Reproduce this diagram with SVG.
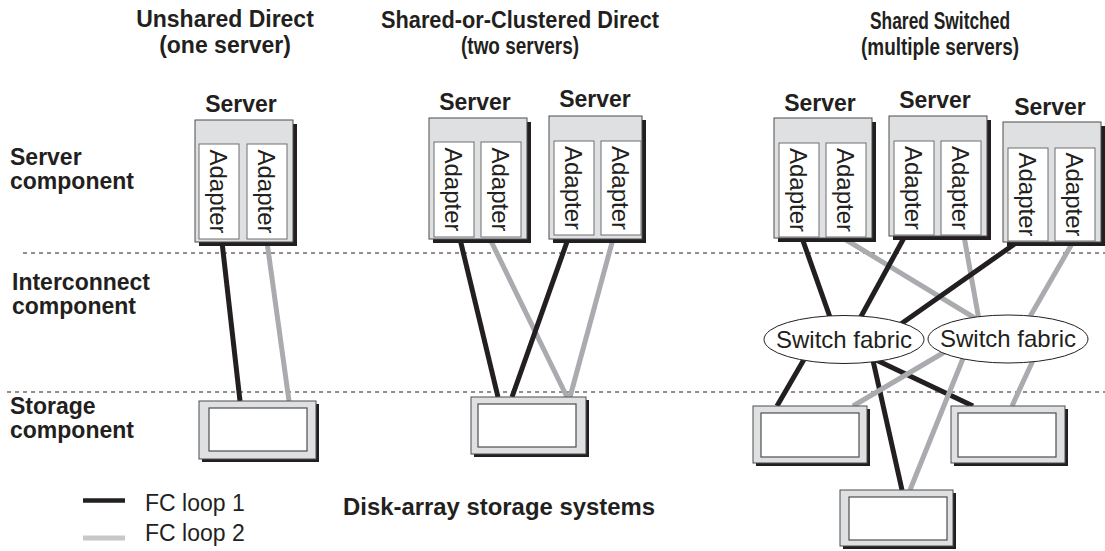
<svg xmlns="http://www.w3.org/2000/svg" width="1105" height="551" viewBox="0 0 1105 551">
<style>
text{font-family:"Liberation Sans",Arial,Helvetica,sans-serif;fill:#231f20}
.b{font-weight:bold;font-size:23px}
.t{font-weight:bold;font-size:23px;text-anchor:middle}
.ad{font-size:24px;text-anchor:middle}
.sw{font-size:24px;text-anchor:middle}
.lg{font-size:23px}
.sh{fill:#231f20}
.box{fill:#dfe0e1;stroke:#4d4d4f;stroke-width:1}
.adp{fill:#fff;stroke:#6d6e71;stroke-width:1}
.inner{fill:#fff;stroke:#4d4d4f;stroke-width:1.2}
.dash{stroke:#231f20;stroke-width:1.2;stroke-dasharray:4 4;fill:none}
.k{stroke:#231f20;stroke-width:5;fill:none}
.g{stroke:#a9abae;stroke-width:5;fill:none}
.ell{fill:#fff;stroke:#231f20;stroke-width:1}
</style>

<g id="titles">
<text class="t" x="225" y="27">Unshared Direct</text>
<text class="t" x="225" y="53">(one server)</text>
<text class="t" x="520" y="28" textLength="278" lengthAdjust="spacingAndGlyphs">Shared-or-Clustered Direct</text>
<text class="t" x="520" y="54" textLength="118" lengthAdjust="spacingAndGlyphs">(two servers)</text>
<text class="t" x="940" y="29" textLength="140" lengthAdjust="spacingAndGlyphs">Shared Switched</text>
<text class="t" x="940" y="55" textLength="158" lengthAdjust="spacingAndGlyphs">(multiple servers)</text>
</g>

<g id="layer-labels">
<text class="b" x="10" y="165">Server</text>
<text class="b" x="10" y="189">component</text>
<text class="b" x="12" y="290">Interconnect</text>
<text class="b" x="12" y="314">component</text>
<text class="b" x="10" y="414">Storage</text>
<text class="b" x="10" y="438">component</text>
</g>

<g id="dividers">
<line class="dash" x1="23" y1="253" x2="1105" y2="253"/>
<line class="dash" x1="7" y1="392" x2="1105" y2="392"/>
</g>

<g id="connectors">
<line class="g" x1="267" y1="242" x2="289" y2="401"/>
<line class="k" x1="222" y1="242" x2="240" y2="401"/>

<line class="g" x1="490" y1="239" x2="567" y2="397"/>
<line class="g" x1="613" y1="239" x2="570" y2="397"/>
<line class="k" x1="460" y1="239" x2="498" y2="397"/>
<line class="k" x1="568" y1="239" x2="512" y2="397"/>

<line class="g" x1="843" y1="238" x2="978" y2="320"/>
<line class="g" x1="964" y1="236" x2="979" y2="320"/>
<line class="g" x1="1073" y1="242" x2="1028" y2="320"/>
<line class="k" x1="802" y1="238" x2="831" y2="320"/>
<line class="k" x1="905" y1="236" x2="858" y2="322"/>
<line class="k" x1="1016" y1="243" x2="898" y2="326"/>

<line class="k" x1="806" y1="356" x2="777" y2="406"/>
<line class="k" x1="872" y1="356" x2="902" y2="490"/>
<line class="k" x1="872" y1="358" x2="973" y2="406"/>
<line class="g" x1="948" y1="350" x2="853" y2="406"/>
<line class="g" x1="964" y1="356" x2="910" y2="490"/>
<line class="g" x1="1035" y1="356" x2="1012" y2="406"/>
</g>

<g id="server-1">
<text class="t" x="241" y="112">Server</text>
<rect class="sh" x="199" y="124" width="98" height="122"/>
<rect class="box" x="195" y="120" width="98" height="122"/>
<rect class="adp" x="199" y="144" width="40" height="95"/>
<rect class="adp" x="247" y="144" width="40" height="95"/>
<text class="ad" transform="translate(210,191.5) rotate(90)">Adapter</text>
<text class="ad" transform="translate(258,191.5) rotate(90)">Adapter</text>
</g>

<g id="server-2a">
<text class="t" x="475" y="110">Server</text>
<rect class="sh" x="433" y="122" width="98" height="121"/>
<rect class="box" x="429" y="118" width="98" height="121"/>
<rect class="adp" x="434" y="142" width="40" height="95"/>
<rect class="adp" x="481" y="142" width="40" height="95"/>
<text class="ad" transform="translate(445,189.5) rotate(90)">Adapter</text>
<text class="ad" transform="translate(492,189.5) rotate(90)">Adapter</text>
</g>

<g id="server-2b">
<text class="t" x="595" y="107">Server</text>
<rect class="sh" x="553" y="120" width="93" height="123"/>
<rect class="box" x="549" y="116" width="93" height="123"/>
<rect class="adp" x="554" y="141" width="40" height="94"/>
<rect class="adp" x="601" y="141" width="40" height="94"/>
<text class="ad" transform="translate(565,188) rotate(90)">Adapter</text>
<text class="ad" transform="translate(612,188) rotate(90)">Adapter</text>
</g>

<g id="server-3a">
<text class="t" x="820" y="111">Server</text>
<rect class="sh" x="778" y="122" width="98" height="120"/>
<rect class="box" x="774" y="118" width="98" height="120"/>
<rect class="adp" x="779" y="143" width="40" height="94"/>
<rect class="adp" x="826" y="143" width="40" height="94"/>
<text class="ad" transform="translate(790,190) rotate(90)">Adapter</text>
<text class="ad" transform="translate(837,190) rotate(90)">Adapter</text>
</g>

<g id="server-3b">
<text class="t" x="935" y="108">Server</text>
<rect class="sh" x="893" y="120" width="98" height="120"/>
<rect class="box" x="889" y="116" width="98" height="120"/>
<rect class="adp" x="894" y="141" width="40" height="94"/>
<rect class="adp" x="941" y="141" width="40" height="94"/>
<text class="ad" transform="translate(905,188) rotate(90)">Adapter</text>
<text class="ad" transform="translate(952,188) rotate(90)">Adapter</text>
</g>

<g id="server-3c">
<text class="t" x="1050" y="115">Server</text>
<rect class="sh" x="1007" y="126" width="98" height="120"/>
<rect class="box" x="1003" y="122" width="98" height="120"/>
<rect class="adp" x="1008" y="148" width="40" height="93"/>
<rect class="adp" x="1055" y="148" width="40" height="93"/>
<text class="ad" transform="translate(1019,194.5) rotate(90)">Adapter</text>
<text class="ad" transform="translate(1066,194.5) rotate(90)">Adapter</text>
</g>

<g id="switch-1">
<ellipse class="ell" cx="844" cy="339.5" rx="80" ry="24"/>
<text class="sw" x="844" y="347.5">Switch fabric</text>
</g>
<g id="switch-2">
<ellipse class="ell" cx="1008" cy="339" rx="80" ry="24"/>
<text class="sw" x="1008" y="347">Switch fabric</text>
</g>

<g id="storage-1">
<rect class="sh" x="202" y="404" width="117" height="58"/>
<rect class="box" x="199" y="401" width="117" height="58"/>
<rect class="inner" x="209" y="408" width="98" height="43"/>
</g>
<g id="storage-2">
<rect class="sh" x="474" y="400" width="115" height="57"/>
<rect class="box" x="471" y="397" width="115" height="57"/>
<rect class="inner" x="478" y="404" width="98" height="43"/>
</g>
<g id="storage-3a">
<rect class="sh" x="756" y="409" width="114" height="57"/>
<rect class="box" x="753" y="406" width="114" height="57"/>
<rect class="inner" x="761" y="413" width="98" height="44"/>
</g>
<g id="storage-3b">
<rect class="sh" x="954" y="409" width="114" height="57"/>
<rect class="box" x="951" y="406" width="114" height="57"/>
<rect class="inner" x="958" y="413" width="98" height="44"/>
</g>
<g id="storage-3c">
<rect class="sh" x="843" y="493" width="113" height="56"/>
<rect class="box" x="840" y="490" width="113" height="56"/>
<rect class="inner" x="849" y="497" width="98" height="43"/>
</g>

<g id="legend">
<line x1="83" y1="500.5" x2="125" y2="500.5" stroke="#231f20" stroke-width="4.5"/>
<line x1="83" y1="538" x2="125" y2="538" stroke="#c6c7c8" stroke-width="5"/>
<text class="lg" x="145" y="511">FC loop 1</text>
<text class="lg" x="145" y="541">FC loop 2</text>
<text class="b" x="343" y="515" textLength="312" lengthAdjust="spacingAndGlyphs">Disk-array storage systems</text>
</g>
</svg>
